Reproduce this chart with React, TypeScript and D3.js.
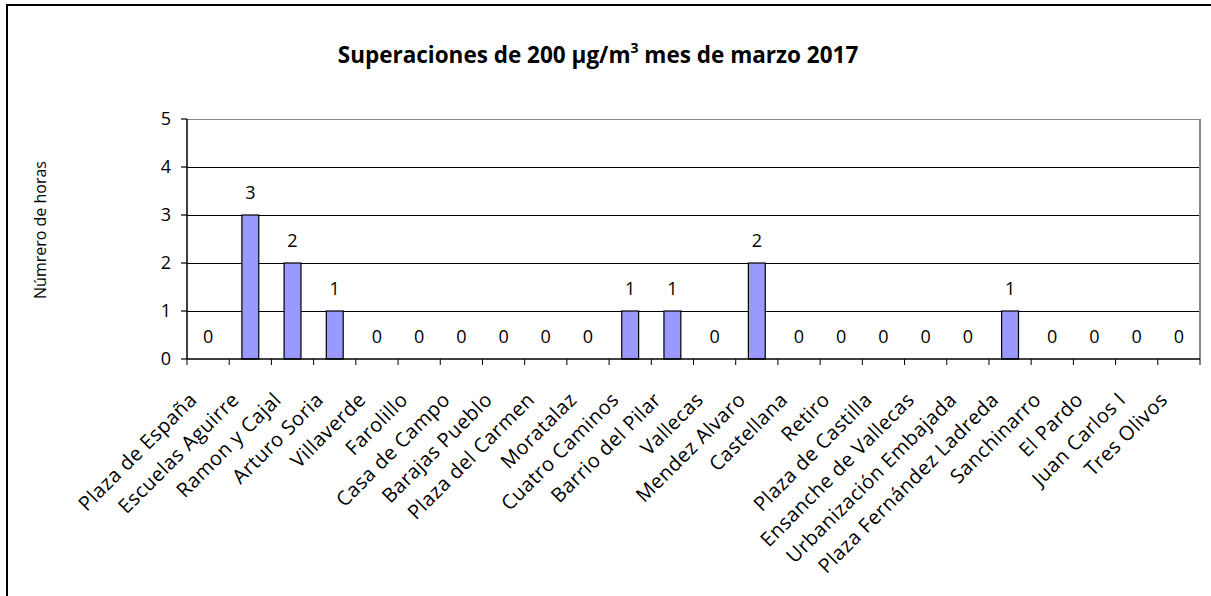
import React from "react";
import * as d3 from "d3";

const stations = [
  "Plaza de España", "Escuelas Aguirre", "Ramon y Cajal", "Arturo Soria", "Villaverde",
  "Farolillo", "Casa de Campo", "Barajas Pueblo", "Plaza del Carmen", "Moratalaz",
  "Cuatro Caminos", "Barrio del Pilar", "Vallecas", "Mendez Alvaro", "Castellana",
  "Retiro", "Plaza de Castilla", "Ensanche de Vallecas", "Urbanización Embajada",
  "Plaza Fernández Ladreda", "Sanchinarro", "El Pardo", "Juan Carlos I", "Tres Olivos",
];
const hours = [0, 3, 2, 1, 0, 0, 0, 0, 0, 0, 1, 1, 0, 2, 0, 0, 0, 0, 0, 1, 0, 0, 0, 0];
const yTicks = [0, 1, 2, 3, 4, 5];

const W = 1211, H = 596;
const left = 187, right = 1200, top = 119, bottom = 359;
const font = "'Open Sans', 'DejaVu Sans', sans-serif";

export default function App() {
  const x = d3.scaleBand<string>().domain(stations).range([left, right]).paddingInner(0).paddingOuter(0);
  const y = d3.scaleLinear().domain([0, 5]).range([bottom, top]);
  const bw = x.bandwidth() / 2.5;
  return (
    <svg width={W} height={H} style={{ position: "absolute", left: 0, top: 0, background: "#fff" }}>
      <rect x={7} y={5} width={W + 20} height={H + 20} fill="#fff" stroke="#000" strokeWidth={2} />
      <text x={598} y={63} textAnchor="middle" fontFamily={font} fontWeight="bold" fontSize={22.5}>
        Superaciones de 200 µg/m<tspan dy={-10} fontSize={14}>3</tspan><tspan dy={10}> mes de marzo 2017</tspan>
      </text>
      {/* gridlines */}
      {yTicks.filter((t) => t > 0).map((t) => (
        <line key={t} x1={left} x2={right} y1={y(t)} y2={y(t)} stroke={t === 5 ? "#888" : "#000"} strokeWidth={1} shapeRendering="crispEdges" />
      ))}
      <line x1={right} x2={right} y1={top} y2={bottom} stroke="#888" strokeWidth={2} shapeRendering="crispEdges" />
      {/* bars */}
      {stations.map((s, i) => (
        <rect key={s} x={(x(s) as number) + (x.bandwidth() - bw) / 2} y={y(hours[i])} width={bw}
          height={bottom - y(hours[i])} fill="#9999FF" stroke="#000" strokeWidth={1.2} />
      ))}
      {/* data labels */}
      {stations.map((s, i) => (
        <text key={s} x={(x(s) as number) + x.bandwidth() / 2} y={y(hours[i]) - 16} textAnchor="middle"
          fontFamily={font} fontSize={18}>{hours[i]}</text>
      ))}
      {/* axes */}
      <line x1={left} x2={left} y1={top} y2={bottom} stroke="#000" strokeWidth={1.5} />
      <line x1={left} x2={right} y1={bottom} y2={bottom} stroke="#000" strokeWidth={1.5} />
      {yTicks.map((t) => (
        <g key={t}>
          <line x1={left - 6} x2={left} y1={y(t)} y2={y(t)} stroke="#000" strokeWidth={1.2} />
          <text x={left - 16} y={y(t)} dy="0.36em" textAnchor="end" fontFamily={font} fontSize={18}>{t}</text>
        </g>
      ))}
      {d3.range(stations.length + 1).map((i) => {
        const xx = left + i * x.step();
        return <line key={i} x1={xx} x2={xx} y1={bottom} y2={bottom + 6} stroke="#000" strokeWidth={1} />;
      })}
      {stations.map((s) => {
        const cx = (x(s) as number) + x.bandwidth() / 2;
        return (
          <text key={s} transform={`translate(${cx - 10},${bottom + 42}) rotate(-45)`} textAnchor="end"
            fontFamily={font} fontSize={20} letterSpacing={0.5}>{s}</text>
        );
      })}
      <text transform={`translate(46,${230}) rotate(-90)`} textAnchor="middle" fontFamily={font} fontSize={16}>
        Númrero de horas
      </text>
    </svg>
  );
}
